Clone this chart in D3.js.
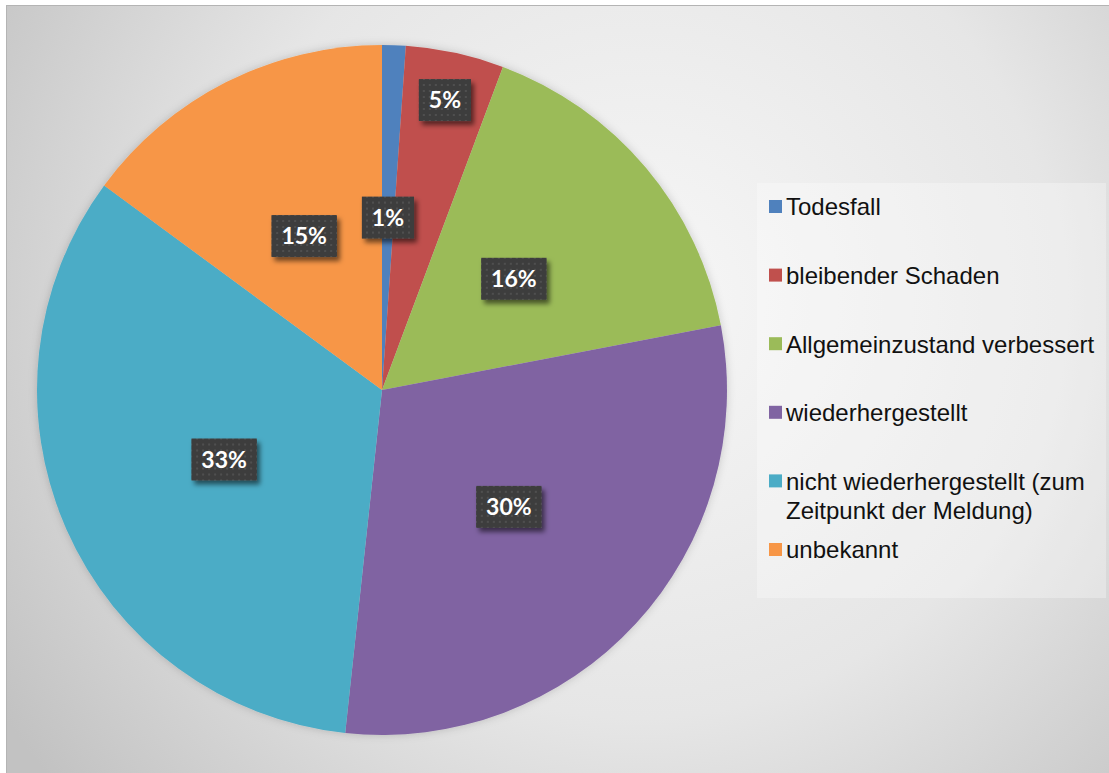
<!DOCTYPE html>
<html>
<head>
<meta charset="utf-8">
<script src="https://cdn.jsdelivr.net/npm/d3@7"></script>
<style>
  body { margin: 0; background: #fff; }
  svg { display: block; }
</style>
</head>
<body>
<div id="chart"></div>
<script>
// outcome categories and their shares (percent)
const categories = ['Todesfall', 'bleibender Schaden', 'Allgemeinzustand verbessert',
  'wiederhergestellt', 'nicht wiederhergestellt (zum Zeitpunkt der Meldung)', 'unbekannt']
const legendLines = [['Todesfall'], ['bleibender Schaden'], ['Allgemeinzustand verbessert'],
  ['wiederhergestellt'], ['nicht wiederhergestellt (zum', 'Zeitpunkt der Meldung)'], ['unbekannt']]
const shares = [1.1, 4.6, 16.3, 29.7, 33.4, 14.9]
const colors = ['#4f81bd', '#c0504d', '#9bbb59', '#8064a2', '#4bacc6', '#f79646']

const width = 1109
const height = 773
const cx = 382
const cy = 390
const radius = 345

const svg = d3.select('#chart')
  .append('svg')
  .attr('width', width)
  .attr('height', height)

const defs = svg.append('defs')

// background gradient of the chart area
const bg = defs.append('radialGradient')
  .attr('id', 'bgGrad')
  .attr('gradientUnits', 'userSpaceOnUse')
  .attr('cx', 640).attr('cy', 300).attr('r', 760)
bg.append('stop').attr('offset', '0%').attr('stop-color', '#f7f7f7')
bg.append('stop').attr('offset', '55%').attr('stop-color', '#e6e6e6')
bg.append('stop').attr('offset', '100%').attr('stop-color', '#c2c2c2')

// dotted texture for the label boxes
const pat = defs.append('pattern')
  .attr('id', 'dots')
  .attr('patternUnits', 'userSpaceOnUse')
  .attr('width', 6).attr('height', 6)
pat.append('rect').attr('width', 6).attr('height', 6).attr('fill', '#3d3d3d')
pat.append('rect').attr('x', 2).attr('y', 2).attr('width', 2).attr('height', 2).attr('fill', '#505050')

const shadow = defs.append('filter')
  .attr('id', 'boxShadow')
  .attr('x', '-30%').attr('y', '-30%').attr('width', '160%').attr('height', '160%')
shadow.append('feDropShadow')
  .attr('dx', 3).attr('dy', 4).attr('stdDeviation', 2.5)
  .attr('flood-color', '#000').attr('flood-opacity', 0.55)

const pieShadow = defs.append('filter')
  .attr('id', 'pieShadow')
  .attr('x', '-10%').attr('y', '-10%').attr('width', '120%').attr('height', '120%')
pieShadow.append('feDropShadow')
  .attr('dx', 0).attr('dy', 0).attr('stdDeviation', 4)
  .attr('flood-color', '#000').attr('flood-opacity', 0.18)

svg.append('rect')
  .attr('x', 6.5).attr('y', 5.5)
  .attr('width', width).attr('height', height)
  .attr('fill', 'url(#bgGrad)')
  .attr('stroke', '#b4b4b4')
  .attr('stroke-width', 1)

// pie
const pie = d3.pie().sort(null).value(d => d)
const arcs = pie(shares)
const arc = d3.arc().innerRadius(0).outerRadius(radius)
const total = d3.sum(shares)
const pct = d3.format('.0%')

const g = svg.append('g').attr('transform', `translate(${cx},${cy})`)

g.append('g')
  .attr('filter', 'url(#pieShadow)')
  .selectAll('path')
  .data(arcs)
  .enter()
  .append('path')
    .attr('d', arc)
    .attr('fill', (d, i) => colors[i])

// data labels, the small red slice has its label pushed outward
const labelArc = i => d3.arc().innerRadius(0).outerRadius(i === 1 ? radius * 1.72 : radius)

const labels = g.selectAll('.lbl')
  .data(arcs)
  .enter()
  .append('g')
    .attr('class', 'lbl')
    .attr('transform', (d, i) => `translate(${labelArc(i).centroid(d)})`)

labels.each(function (d) {
  const lg = d3.select(this)
  const t = lg.append('text')
    .attr('text-anchor', 'middle')
    .attr('dy', '0.36em')
    .attr('font-family', 'Lato, "Open Sans", sans-serif')
    .attr('font-weight', 'bold')
    .attr('font-size', '23px')
    .attr('fill', '#fff')
    .text(pct(d.data / total))
  const w = t.node().getComputedTextLength() + 20
  lg.insert('rect', 'text')
    .attr('x', -w / 2).attr('y', -21)
    .attr('width', w).attr('height', 42)
    .attr('fill', 'url(#dots)')
    .attr('filter', 'url(#boxShadow)')
})

// legend
const legendX = 757
const legend = svg.append('g')

legend.append('rect')
  .attr('x', legendX).attr('y', 183)
  .attr('width', 349).attr('height', 415)
  .attr('fill', '#fff')
  .attr('fill-opacity', 0.3)

const rowScale = d3.scalePoint()
  .domain(categories)
  .range([207, 550])

const rows = legend.selectAll('.row')
  .data(categories)
  .enter()
  .append('g')
    .attr('class', 'row')
    .attr('transform', d => `translate(${legendX}, ${rowScale(d)})`)

rows.append('rect')
  .attr('x', 12).attr('y', -7)
  .attr('width', 13).attr('height', 13)
  .attr('fill', (d, i) => colors[i])

rows.append('text')
  .attr('x', 29)
  .attr('font-family', '"Liberation Sans", Arial, sans-serif')
  .attr('font-size', '24px')
  .attr('fill', '#111')
  .selectAll('tspan')
  .data((d, i) => legendLines[i])
  .enter()
  .append('tspan')
    .attr('x', 29)
    .attr('y', (d, j) => j * 29)
    .attr('dy', '0.35em')
    .text(d => d)
</script>
</body>
</html>
